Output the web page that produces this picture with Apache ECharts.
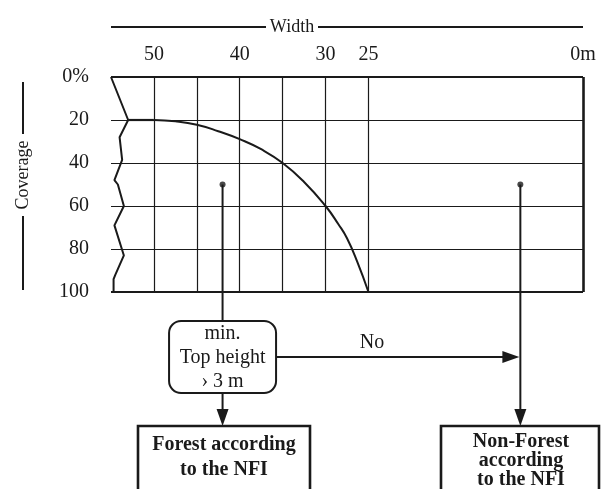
<!DOCTYPE html>
<html><head><meta charset="utf-8">
<script src="https://cdn.jsdelivr.net/npm/echarts@6/dist/echarts.min.js"></script>
<style>html,body{margin:0;padding:0;background:#fff}#c{width:601px;height:489px}</style>
</head><body><div id="c"></div>
<script>
// ---- data ----
const widthTicks = [50, 40, 30, 25, 0];
const gridWidths = [50, 45, 40, 35, 30, 25];
const coverageTicks = [0, 20, 40, 60, 80, 100];
const flatTop = [[53, 20], [50, 20]];
const thresholdCurve = [[50, 20], [47.5, 20.6], [45, 22.2], [42.5, 25.2], [40, 28.9], [37.5, 33.6], [35, 40], [32.5, 48.8], [30, 60], [28.5, 68.5], [27.5, 75], [26.3, 86], [25, 100]];
const brokenEdge = [[55, 0], [53, 20], [54, 28], [53.7, 38.5], [54.6, 48], [54.2, 50], [53.5, 60], [54.6, 69], [53.5, 83], [54.5, 92], [54.7, 94], [54.7, 100]];
const samplePoints = [[42, 50], [7.3, 50]];

const FONT = '"Liberation Serif", "Times New Roman", serif';
const INK = '#1a1a1a';

const chart = echarts.init(document.getElementById('c'), null, {renderer: 'canvas'});

const lineBase = {type: 'line', symbol: 'none', silent: true, z: 5};
const option = {
  animation: false,
  grid: {left: 111, right: 18, top: 77, bottom: 197},
  xAxis: {
    type: 'value', inverse: true, min: 0, max: 55, interval: 5, position: 'top',
    axisLine: {show: false}, axisTick: {show: false}, splitLine: {show: false},
    axisLabel: {
      margin: 12, fontFamily: FONT, fontSize: 20, color: INK,
      formatter: v => widthTicks.includes(v) ? (v === 0 ? '0m' : String(v)) : ''
    }
  },
  yAxis: {
    type: 'value', inverse: true, min: 0, max: 100, interval: 20,
    axisLine: {show: false}, axisTick: {show: false},
    splitLine: {show: true, lineStyle: {color: INK, width: 1.2}},
    axisLabel: {
      margin: 22, fontFamily: FONT, fontSize: 20, color: INK,
      formatter: v => coverageTicks.includes(v) ? (v === 0 ? '0%' : String(v)) : ''
    }
  },
  series: [
    Object.assign({}, lineBase, {
      data: flatTop, lineStyle: {color: INK, width: 2.2},
      markLine: {
        silent: true, symbol: 'none', label: {show: false},
        lineStyle: {color: INK, width: 1.2, type: 'solid'},
        data: gridWidths.map(w => ({xAxis: w}))
          .concat([
            {yAxis: 0, lineStyle: {width: 2.2, color: INK, type: 'solid'}},
            {yAxis: 100, lineStyle: {width: 2.2, color: INK, type: 'solid'}},
            {xAxis: 0, lineStyle: {width: 2.6, color: INK, type: 'solid'}}
          ])
      }
    }),
    Object.assign({}, lineBase, {data: thresholdCurve, smooth: 0.5, lineStyle: {color: INK, width: 2}}),
    Object.assign({}, lineBase, {data: brokenEdge, lineStyle: {color: INK, width: 2}}),
    {type: 'scatter', data: samplePoints, symbolSize: 6, itemStyle: {color: INK}, z: 6, silent: true}
  ]
};
chart.setOption(option);

const p1 = chart.convertToPixel({gridIndex: 0}, samplePoints[0]);
const p2 = chart.convertToPixel({gridIndex: 0}, samplePoints[1]);
const plotL = chart.convertToPixel({gridIndex: 0}, [55, 0]);
const plotR = chart.convertToPixel({gridIndex: 0}, [0, 100]);

const stroke = (w) => ({stroke: INK, lineWidth: w, fill: null});
const line = (x1, y1, x2, y2, w) => ({type: 'line', shape: {x1, y1, x2, y2}, style: stroke(w || 2), silent: true});
const tri = (pts) => ({type: 'polygon', shape: {points: pts}, style: {fill: INK}, silent: true});
const txt = (x, y, t, opt) => ({type: 'text', x, y, silent: true,
  style: Object.assign({text: t, fill: INK, font: '20px ' + FONT, textAlign: 'center', textVerticalAlign: 'middle'}, opt || {})});

const boxTop = 321, boxBot = 393, boxHalf = 53.5;
const outTop = 426, yNo = 357;
const g = [
  // Width title with lines
  line(plotL[0], 27, 266, 27, 2), txt(292, 27, 'Width', {font: '18px ' + FONT}), line(318, 27, plotR[0], 27, 2),
  // Coverage title with lines
  line(23, 82, 23, 134, 2),
  {type: 'text', x: 23, y: 175, rotation: Math.PI / 2, silent: true,
   style: {text: 'Coverage', fill: INK, font: '18px ' + FONT, textAlign: 'center', textVerticalAlign: 'middle'}},
  line(23, 216, 23, 290, 2),
  // left branch
  line(p1[0], p1[1], p1[0], boxTop, 2),
  {type: 'rect', shape: {x: p1[0] - boxHalf, y: boxTop, width: boxHalf * 2, height: boxBot - boxTop, r: 12}, style: stroke(2), silent: true},
  txt(p1[0], 334, 'min.'), txt(p1[0], 358, 'Top height'), txt(p1[0], 382, '› 3 m'),
  line(p1[0], boxBot, p1[0], outTop - 14, 2),
  tri([[p1[0] - 6, outTop - 17], [p1[0] + 6, outTop - 17], [p1[0], outTop]]),
  {type: 'rect', shape: {x: 138, y: outTop, width: 172, height: 80}, style: stroke(2.6), silent: true},
  txt(224, 445, 'Forest according', {font: 'bold 20px ' + FONT}),
  txt(224, 470, 'to the NFI', {font: 'bold 20px ' + FONT}),
  // No arrow
  line(p1[0] + boxHalf, yNo, p2[0] - 14, yNo, 2),
  tri([[p2[0] - 18, yNo - 6], [p2[0] - 18, yNo + 6], [p2[0] - 1, yNo]]),
  txt(372, 343, 'No'),
  // right branch
  line(p2[0], p2[1], p2[0], outTop - 14, 2),
  tri([[p2[0] - 6, outTop - 17], [p2[0] + 6, outTop - 17], [p2[0], outTop]]),
  {type: 'rect', shape: {x: 441, y: outTop, width: 158, height: 80}, style: stroke(2.6), silent: true},
  txt(521, 442, 'Non-Forest', {font: 'bold 20px ' + FONT}),
  txt(521, 461, 'according', {font: 'bold 20px ' + FONT}),
  txt(521, 480, 'to the NFI', {font: 'bold 20px ' + FONT})
];
chart.setOption({graphic: {elements: g}});
</script>
</body></html>
